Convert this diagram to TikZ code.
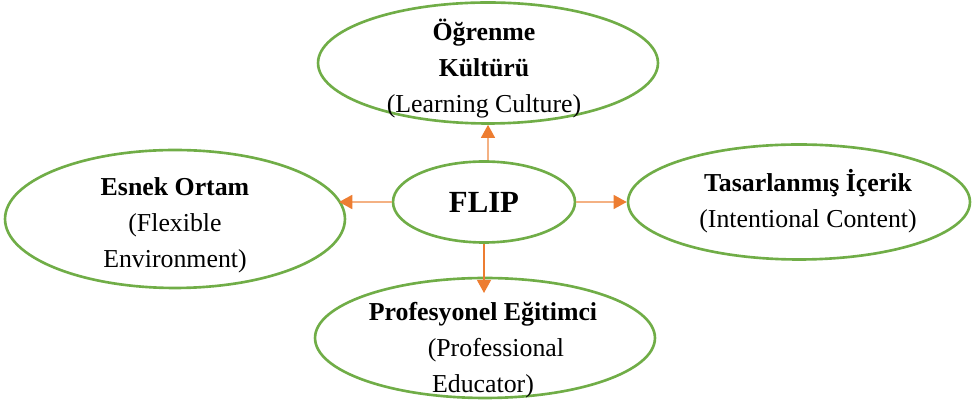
\documentclass[tikz,border=0pt]{standalone}
\usepackage{fontspec}
\setmainfont{Liberation Serif}
\usetikzlibrary{shapes.geometric, arrows.meta}
\definecolor{ovalgreen}{HTML}{70AD47}
\definecolor{arrorange}{HTML}{ED7D31}
\definecolor{paleorange}{HTML}{F4B183}

\begin{document}
\begin{tikzpicture}[
    x=0.02cm, y=-0.02cm,
    oval/.style={ellipse, draw=ovalgreen, line width=1.5pt, inner sep=0pt},
    txt/.style={align=center, inner sep=0pt, anchor=base,
      font=\fontsize{14.7}{20.6}\selectfont},
    arr/.style={-{Triangle[length=7.5pt, width=8pt, color=arrorange]},
      line width=0.9pt, arrorange}
]
  \useasboundingbox (0,0) rectangle (973,404);

  % --- OVALS ---
  \node[oval, minimum width=6.8cm, minimum height=2.42cm] (cult) at (488,63) {};
  \node[oval, minimum width=3.64cm, minimum height=1.62cm,
        font=\fontsize{17.5}{20}\selectfont\bfseries] (flip) at (484,202) {FLIP};
  \node[oval, minimum width=6.8cm, minimum height=2.76cm] (env) at (175,219) {};
  \node[oval, minimum width=6.84cm, minimum height=2.3cm] (cont) at (799,202) {};
  \node[oval, minimum width=6.8cm, minimum height=2.4cm] (edu) at (485,338) {};

  % --- TEXTS (placed at the baseline of their last line) ---
  \node[txt] (cult-txt) at (484,113)
    {\textbf{Öğrenme}\\ \textbf{Kültürü}\\ (Learning Culture)};
  \node[txt] (env-txt) at (175,268)
    {\textbf{Esnek Ortam}\\ (Flexible\\ Environment)};
  \node[txt] (cont-txt) at (808,228)
    {\textbf{Tasarlanmış İçerik}\\ (Intentional Content)};
  \node[txt] (edu-txt) at (483,393)
    {\textbf{Profesyonel Eğitimci}\\ \hspace{1em}(Professional\\ Educator)};

  % --- ARROWS ---
  \coordinate (edu-in) at (484,293);
  \draw[arr, draw=paleorange] (cult.south |- flip.north) -- (cult.south);
  \draw[arr, draw=paleorange] (flip.west) -- (flip.west -| env.7);
  \draw[arr, draw=paleorange] (flip.east) -- (cont.west);
  \draw[arr] (flip.south) -- (edu-in);

\end{tikzpicture}
\end{document}
